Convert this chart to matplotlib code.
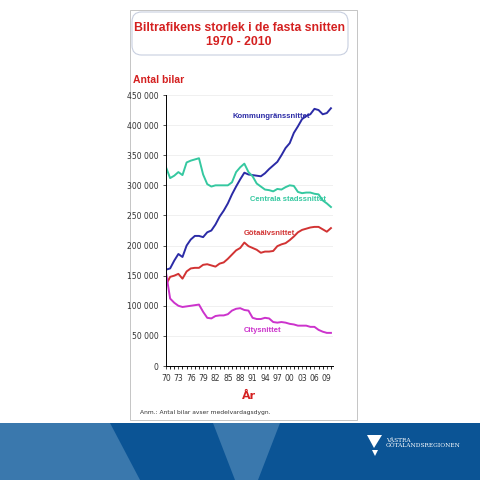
import matplotlib.pyplot as plt
from matplotlib.patches import Rectangle, FancyBboxPatch, Polygon
from matplotlib.ticker import FuncFormatter, MultipleLocator

years = list(range(1970, 2011))
kommun = [160, 162, 175, 186, 181, 200, 210, 216, 216, 214, 222, 225, 235, 248, 258, 270, 285, 298,
          310, 321, 318, 317, 316, 315, 320, 327, 333, 339, 350, 362, 370, 387, 398, 410, 415, 418,
          427, 425, 418, 420, 428]
centrala = [330, 312, 316, 322, 317, 338, 341, 343, 345, 318, 302, 298, 300, 300, 300, 300, 305, 322,
            330, 336, 322, 315, 303, 298, 293, 292, 290, 294, 293, 297, 300, 299, 289, 287, 288, 288,
            286, 285, 275, 270, 264]
gota = [135, 148, 150, 153, 145, 157, 162, 163, 163, 168, 169, 167, 165, 170, 172, 178, 185, 192,
        196, 205, 199, 196, 193, 188, 190, 190, 191, 199, 202, 204, 209, 215, 222, 226, 228, 230,
        231, 231, 227, 223, 229]
city = [155, 112, 105, 100, 98, 99, 100, 101, 102, 90, 80, 79, 83, 84, 84, 86, 92, 95,
        96, 93, 92, 80, 78, 78, 80, 79, 73, 72, 73, 72, 70, 69, 67, 67, 67, 65, 65, 60, 57, 55, 55]

fig = plt.figure(figsize=(4.8, 4.8), dpi=100)
fig.patch.set_facecolor('white')

# slide frame
fig.add_artist(Rectangle((130/480, 60/480), 227/480, 410/480, facecolor='white',
                         edgecolor='#bbbbbb', lw=0.6, transform=fig.transFigure, zorder=-2))
# footer band
fig.add_artist(Rectangle((0, 0), 1, 57/480, facecolor='#0b5495', edgecolor='none',
                         transform=fig.transFigure, zorder=1))
fig.add_artist(Polygon([(0, 57/480), (110/480, 57/480), (140/480, 0), (0, 0)], closed=True,
                       facecolor='#3a78ad', edgecolor='none', transform=fig.transFigure, zorder=2))
fig.add_artist(Polygon([(213/480, 57/480), (280/480, 57/480), (258/480, 0), (235/480, 0)], closed=True,
                       facecolor='#3a78ad', edgecolor='none', transform=fig.transFigure, zorder=2))
fig.add_artist(Polygon([(367/480, 45/480), (382/480, 45/480), (374/480, 32/480)], closed=True,
                       facecolor='white', edgecolor='none', transform=fig.transFigure, zorder=3))
fig.add_artist(Polygon([(372/480, 30/480), (378/480, 30/480), (375/480, 24/480)], closed=True,
                       facecolor='white', edgecolor='none', transform=fig.transFigure, zorder=3))
fig.text(386/480, 37/480, 'VÄSTRA\nGÖTALANDSREGIONEN', color='white', fontsize=4.2,
         family='DejaVu Serif', va='center', linespacing=1.1, zorder=4)

# title box
fig.add_artist(FancyBboxPatch((132/480, 425/480), 216/480, 43/480,
                              boxstyle='round,pad=0,rounding_size=0.02', facecolor='white',
                              edgecolor='#c8cfe0', lw=0.8, transform=fig.transFigure, zorder=-1))
fig.text(239/480, 445/480, 'Biltrafikens storlek i de fasta snitten\n1970 - 2010', color='#d42020',
         fontsize=8.8, fontweight='bold', ha='center', va='center', family='Liberation Sans',
         linespacing=1.3)
fig.text(133/480, 400/480, 'Antal bilar', color='#d42020', fontsize=7.5, fontweight='bold',
         family='Liberation Sans', va='center')

ax = fig.add_axes([166/480, 114/480, 167/480, 271/480], zorder=5)
ax.patch.set_alpha(0)
ax.plot(years, kommun, color='#2b2ba6', lw=1.4)
ax.plot(years, centrala, color='#35c8a0', lw=1.4)
ax.plot(years, gota, color='#d23333', lw=1.4)
ax.plot(years, city, color='#cc33cc', lw=1.4)
ax.set_xlim(1970, 2010.5)
ax.set_ylim(0, 450)
ax.yaxis.set_major_locator(MultipleLocator(50))
ax.yaxis.set_major_formatter(FuncFormatter(lambda v, p: '0' if v == 0 else f'{int(v)} 000'))
ax.set_xticks(list(range(1970, 2010, 3)))
ax.set_xticklabels([f'{y % 100:02d}' for y in range(1970, 2010, 3)])
ax.xaxis.set_minor_locator(MultipleLocator(1))
ax.tick_params(labelsize=5.5, length=2, width=0.6, colors='#333333')
ax.tick_params(axis='x', which='minor', length=2, width=0.6)
ax.grid(axis='y', color='#eeeeee', lw=0.6)
for s in ['top', 'right']:
    ax.spines[s].set_visible(False)
for s in ['left', 'bottom']:
    ax.spines[s].set_linewidth(0.7)

lbl = dict(fontsize=5.5, fontweight='bold', ha='center', family='Liberation Sans')
ax.text(1995.5, 412, 'Kommungränssnittet', color='#2b2ba6', **lbl)
ax.text(1999.5, 274, 'Centrala stadssnittet', color='#35c8a0', **lbl)
ax.text(1995, 217, 'Götaälvsnittet', color='#d23333', **lbl)
ax.text(1993.5, 56, 'Citysnittet', color='#cc33cc', **lbl)
ax.set_xlabel('År', color='#d42020', fontsize=8, fontweight='bold', labelpad=6)
fig.text(140/480, 66/480, 'Anm.: Antal bilar avser medelvardagsdygn.', fontsize=4.3, color='#333333')

fig.savefig('out.png', dpi=100)
